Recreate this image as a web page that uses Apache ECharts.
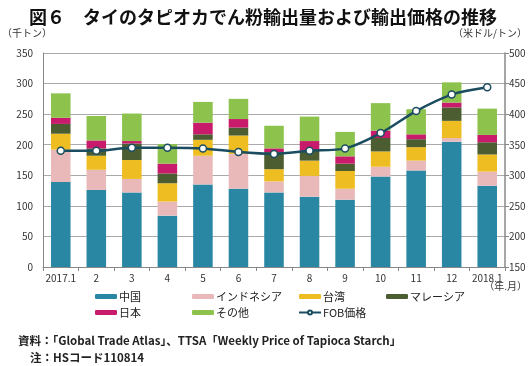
<!DOCTYPE html>
<html><head><meta charset="utf-8">
<script src="https://cdn.jsdelivr.net/npm/echarts@6/dist/echarts.min.js"></script>
<style>html,body{margin:0;padding:0;background:#fff}#c{width:529px;height:366px}</style>
</head><body><div id="c"></div>
<script>
const categories = ['2017.1','2','3','4','5','6','7','8','9','10','11','12','2018.1'];
const china     = [139,126,122,84,135,128,122,115,110,148,158,205,133];
const indonesia = [53,33,22,23,47,57,18,34,18,16,16,6,23];
const taiwan    = [26,23,31,30,26,30,20,25,29,25,22,28,28];
const malaysia  = [16,12,27,16,9,13,28,16,12,22,13,22,20];
const japan     = [10,13,4,16,19,14,6,16,12,12,8,8,12];
const others    = [40,40,45,32,34,33,37,40,40,45,41,33,43];
const fobPrice  = [340,340,345,345,344,338,335,340,344,369,405,432,444];
const leftTicks = [0,50,100,150,200,250,300,350];

const font = '"Noto Sans CJK JP", "Noto Sans", sans-serif';
const colors = {china:'#2a87a3', indo:'#e9b9ba', taiwan:'#eebd22', malay:'#4b5d31', japan:'#c81b6b', others:'#8dc24d', fob:'#1b4d60'};
const chart = echarts.init(document.getElementById('c'));
function bar(name, data, color){
  return {name, type:'bar', stack:'t', data, barWidth:'55%', itemStyle:{color}, yAxisIndex:0};
}
const legendBase = {orient:'vertical', itemWidth:22, itemHeight:5, itemGap:5,
  textStyle:{fontSize:11, fontFamily:font, color:'#222', padding:[0,0,0,-3]}, top:291, padding:0};
chart.setOption({
  animation:false,
  title:[
    {text:'図６　タイのタピオカでん粉輸出量および輸出価格の推移', left:24, top:3,
     textStyle:{fontSize:18, fontWeight:'bold', fontFamily:font, color:'#111'}},
  ],
  graphic:[
    {type:'text', left:2, top:28, style:{text:'（千トン）', fontSize:10, fontFamily:font, fill:'#333'}},
    {type:'text', right:2, top:28, style:{text:'（米ドル/トン）', fontSize:10, fontFamily:font, fill:'#333'}},
    {type:'text', right:2, top:281, style:{text:'（年.月）', fontSize:10, fontFamily:font, fill:'#333'}},
    {type:'text', left:18, top:335, style:{text:'資料：「Global Trade Atlas」、TTSA「Weekly Price of Tapioca Starch」', fontSize:11.5, fontWeight:'bold', fontFamily:font, fill:'#222'}},
    {type:'text', left:30, top:352, style:{text:'注：HSコード110814', fontSize:11.5, fontWeight:'bold', fontFamily:font, fill:'#222'}}
  ],
  legend:[
    Object.assign({}, legendBase, {left:95, data:['中国','日本']}),
    Object.assign({}, legendBase, {left:192, data:['インドネシア','その他']}),
    Object.assign({}, legendBase, {left:298, data:['台湾','FOB価格']}),
    Object.assign({}, legendBase, {left:386, data:['マレーシア']})
  ],
  grid:{left:43, right:24, top:53, bottom:99},
  xAxis:{type:'category', data:categories,
    axisLine:{lineStyle:{color:'#888'}},
    axisTick:{show:true, length:4, lineStyle:{color:'#888'}},
    axisLabel:{fontSize:10, fontFamily:font, color:'#333', margin:6, interval:0}},
  yAxis:[
    {type:'value', min:0, max:350, interval:50,
     axisLine:{show:true, lineStyle:{color:'#888'}}, axisTick:{show:false},
     axisLabel:{fontSize:10, fontFamily:font, color:'#333', margin:10},
     splitLine:{lineStyle:{color:'#aaa'}}},
    {type:'value', min:150, max:500, interval:50, position:'right',
     axisLine:{show:true, lineStyle:{color:'#888', width:1.5}}, axisTick:{show:true, length:4, lineStyle:{color:'#888'}},
     axisLabel:{fontSize:10, fontFamily:font, color:'#333', margin:4},
     splitLine:{show:false}}
  ],
  series:[
    bar('中国', china, colors.china),
    bar('インドネシア', indonesia, colors.indo),
    bar('台湾', taiwan, colors.taiwan),
    bar('マレーシア', malaysia, colors.malay),
    bar('日本', japan, colors.japan),
    bar('その他', others, colors.others),
    {name:'FOB価格', type:'line', yAxisIndex:1, data:fobPrice, smooth:0.3,
     symbol:'circle', symbolSize:7, lineStyle:{color:colors.fob, width:2.5},
     itemStyle:{color:'#fff', borderColor:colors.fob, borderWidth:1.5}}
  ]
});
</script></body></html>
